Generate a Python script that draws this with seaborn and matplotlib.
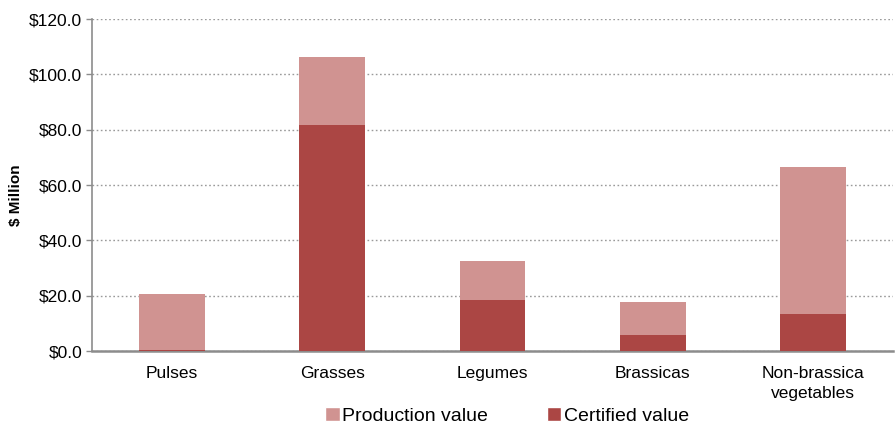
import matplotlib
matplotlib.use("Agg")
import matplotlib.pyplot as plt
import seaborn as sns
import pandas as pd
from matplotlib.patches import Patch

categories = ["Pulses", "Grasses", "Legumes", "Brassicas", "Non-brassica\nvegetables"]
production_value = [20.7, 106.3, 32.6, 17.8, 66.4]
certified_value = [0.2, 81.8, 18.4, 5.8, 13.5]
y_ticks = [0, 20, 40, 60, 80, 100, 120]

prod_color = "#D09391"
cert_color = "#AB4644"

sns.set_theme(style="white")
plt.rcParams["font.family"] = ["Liberation Sans", "DejaVu Sans"]
plt.rcParams["text.color"] = "black"
plt.rcParams["xtick.color"] = "black"
plt.rcParams["ytick.color"] = "black"
plt.rcParams["axes.labelcolor"] = "black"

df = pd.DataFrame({"category": categories,
                   "production": production_value,
                   "certified": certified_value})

fig = plt.figure(figsize=(8.96, 4.25), dpi=100)
ax = fig.add_axes([0.1027, 0.174, 0.894, 0.781])

sns.barplot(data=df, x="category", y="production", color=prod_color,
            width=0.41, saturation=1, linewidth=0, ax=ax, zorder=2)
sns.barplot(data=df, x="category", y="certified", color=cert_color,
            width=0.41, saturation=1, linewidth=0, ax=ax, zorder=3)

ax.set_ylim(0, 120)
ax.set_xlim(-0.5, 4.5)
ax.set_yticks(y_ticks)
ax.set_yticklabels([f"${v:.1f}" for v in y_ticks], fontsize=12.5)
ax.tick_params(axis="x", labelsize=12.5, length=0, pad=11)
ax.tick_params(axis="y", left=True, length=4, width=1, color="#8c8c8c", pad=3)
ax.set_xlabel("")
ax.set_ylabel("$ Million", fontsize=11, fontweight="bold")
ax.yaxis.set_label_coords(-0.086, 0.47)
for lbl in ax.get_xticklabels():
    lbl.set_linespacing(1.4)
    lbl.set_verticalalignment("top")

ax.yaxis.grid(True, linestyle=(0, (1.2, 1.8)), color="#9a9a9a", linewidth=1)
ax.set_axisbelow(True)
for side in ["top", "right"]:
    ax.spines[side].set_visible(False)
ax.spines["left"].set_color("#8c8c8c")
ax.spines["left"].set_linewidth(1.2)
ax.spines["bottom"].set_color("#8c8c8c")
ax.spines["bottom"].set_linewidth(1.8)

handles = [Patch(facecolor=prod_color, label="Production value"),
           Patch(facecolor=cert_color, label="Certified value")]
fig.legend(handles=handles, loc="center", bbox_to_anchor=(0.566, 0.022),
           ncol=2, frameon=False, fontsize=14, handlelength=0.75,
           handleheight=0.75, handletextpad=0.15, columnspacing=3.0)

fig.savefig("out.png", dpi=100)
